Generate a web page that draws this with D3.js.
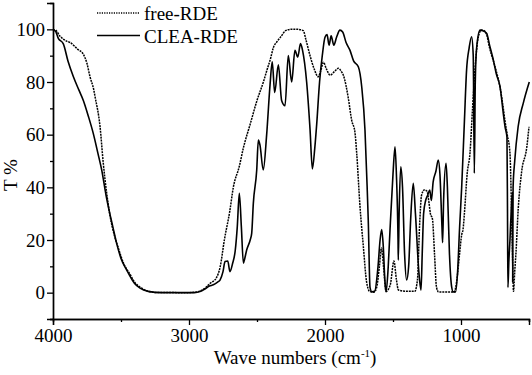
<!DOCTYPE html>
<html>
<head>
<meta charset="utf-8">
<script src="https://cdn.jsdelivr.net/npm/d3@7"></script>
<style>
  body { margin: 0; background: #fff; }
  svg { display: block; font-family: "Liberation Serif", "Times New Roman", serif; }
</style>
</head>
<body>
<svg id="chart" width="532" height="375"></svg>
<script>
// wave number (cm-1) and transmittance (%)
const freeWave = [4000, 3985, 3950, 3900, 3875, 3820, 3777, 3750, 3728, 3700, 3691, 3654, 3630, 3605, 3580, 3550, 3520, 3480, 3434, 3400, 3348, 3300, 3250, 3000,
  2950, 2920, 2880, 2846, 2800, 2770, 2740, 2700, 2674, 2630, 2600, 2550, 2500, 2450, 2430, 2400, 2380, 2350, 2320, 2290, 2250, 2200, 2160, 2140, 2110, 2080,
  2050, 2030, 2012, 1990, 1963, 1930, 1902, 1880, 1865, 1829, 1804, 1780, 1767, 1743, 1718, 1694, 1670, 1640, 1620, 1600, 1585, 1570, 1551, 1520, 1493, 1475,
  1460, 1400, 1340, 1320, 1305, 1290, 1270, 1250, 1235, 1225, 1210, 1195, 1180, 1165, 1050, 1030, 1010, 995, 985, 975, 955, 934, 915, 897, 873, 850, 830,
  811, 790, 762, 740, 713, 689, 676, 660, 640, 630, 620, 614, 605, 596, 579, 554, 517, 500];
const freeT = [99.6, 99.8, 97.5, 95.5, 95, 92.5, 90.5, 87, 82, 77, 74.5, 63, 49, 37.7, 29, 22, 17, 11, 7, 4, 1.7, 0.5, 0.1, 0,
  0.2, 0.6, 1.8, 3.5, 5.5, 10, 20, 31, 40, 48, 55, 64, 73, 80.5, 84, 89, 93, 95.5, 97.5, 99.5, 100, 100, 99.5, 96, 90, 85,
  82, 84.5, 87.5, 85, 82.6, 84, 85.2, 84, 82.6, 74, 65.5, 61, 53, 33, 17.5, 4, 0.4, 0.2, 2, 10, 17, 10, 0.5, 3, 12, 5,
  1, 0.5, 0.5, 5, 25, 37, 39, 38.5, 34, 30, 28, 15, 2, 0.3, 0.3, 5, 15, 22, 24, 30, 45, 53, 70, 85, 97, 99.7, 99.5,
  98, 93, 88, 84, 78, 70, 65, 60, 53, 35, 12, 0.5, 8, 15, 32, 46, 55, 63];

const cleaWave = [4000, 3985, 3960, 3924, 3890, 3850, 3810, 3777, 3740, 3704, 3670, 3642, 3610, 3593, 3560, 3532, 3500, 3458, 3400, 3360, 3300, 3200, 2960,
  2919, 2880, 2850, 2821, 2790, 2772, 2750, 2735, 2715, 2699, 2680, 2660, 2645, 2630, 2615, 2600, 2590, 2576, 2550, 2539, 2527, 2502, 2490, 2478, 2454,
  2429, 2404, 2388, 2370, 2343, 2319, 2294, 2270, 2245, 2221, 2200, 2180, 2165, 2135, 2110, 2093, 2075, 2061, 2040, 2020, 2000, 1985, 1970, 1955, 1935,
  1915, 1890, 1870, 1845, 1816, 1790, 1755, 1730, 1706, 1690, 1682, 1669, 1655, 1635, 1610, 1595, 1583, 1572, 1560, 1551, 1535, 1522, 1500, 1485, 1475,
  1463, 1461, 1455, 1443, 1430, 1415, 1400, 1385, 1370, 1351, 1335, 1310, 1294, 1285, 1275, 1260, 1245, 1230, 1218, 1205, 1185, 1167, 1155, 1140, 1135,
  1128, 1110, 1100, 1085, 1069, 1057, 1040, 1025, 1010, 995, 975, 959, 940, 922, 910, 902, 895, 885, 860, 840, 811, 790, 762, 740, 713, 689, 676, 662,
  658, 655, 648, 640, 630, 622, 620, 617, 605, 580, 542, 498];
const cleaT = [99.6, 99.5, 96.5, 94.5, 88, 82, 77, 73, 67, 60.5, 53, 46.6, 37, 32.6, 25, 18.7, 13, 8.6, 3.5, 1.7, 0.5, 0, 0,
  0.4, 1.5, 2.5, 3, 4, 4.8, 8, 11.8, 12, 8, 11, 16, 25, 37.7, 25, 11.2, 13, 16.2, 20, 22.5, 33.9, 46.6, 58, 56, 46.6,
  60, 79, 87.7, 76, 86.5, 73, 71, 90, 80, 92, 89.5, 94.6, 92, 80, 62, 47, 55, 64, 80, 90, 97, 98, 94, 97.5, 94,
  97, 99.7, 99, 95, 92, 88, 85.8, 78.2, 61.7, 40, 27.6, 2, 0.3, 0.5, 10, 20, 24, 18, 5, 0.3, 10, 23.8, 45, 55.4, 45,
  20, 12.4, 30, 47.8, 40, 15, 4.8, 10, 28, 41.5, 30, 8, 1, 15, 30, 35, 37, 39, 35, 42, 46, 50.4, 45, 25, 19,
  35, 49.1, 40, 15, 2.3, 0.3, 0.3, 8, 25, 40, 65, 84.5, 93, 97.2, 90, 45.3, 80, 93, 99.7, 99.5, 98.4, 94, 88.3, 83, 78.2, 68.1, 63, 59,
  30, 2, 12, 20, 32, 38, 4, 40, 50, 63, 72, 80];

const xTicks = [4000, 3000, 2000, 1000];
const xMinor = [3500, 2500, 1500, 500];
const yTicks = [0, 20, 40, 60, 80, 100];
const yMinor = [-10, 10, 30, 50, 70, 90];

const svg = d3.select("#chart");
const plotLeft = 53, plotRight = 529, plotTop = 3, plotBottom = 319;

const x = d3.scaleLinear().domain([4000, 500]).range([plotLeft, plotRight]);
const y = d3.scaleLinear().domain([-10, 110]).range([plotBottom, plotTop]);

const freeData = freeWave.map((w, i) => ({ w, t: freeT[i] }));
const cleaData = cleaWave.map((w, i) => ({ w, t: cleaT[i] }));

const line = d3.line()
  .x((d) => x(d.w))
  .y((d) => y(d.t))
  .curve(d3.curveMonotoneX);

// axes
svg.append("g").attr("transform", `translate(0,${plotBottom})`)
  .call(d3.axisBottom(x).tickValues(xTicks).tickFormat(d3.format("d")).tickSizeOuter(0).tickSize(6).tickPadding(4));
svg.append("g").attr("transform", `translate(0,${plotBottom})`)
  .call(d3.axisBottom(x).tickValues(xMinor).tickFormat("").tickSizeOuter(0).tickSize(3));

svg.append("g").attr("transform", `translate(${plotLeft},0)`)
  .call(d3.axisLeft(y).tickValues(yTicks).tickSizeOuter(0).tickSize(6).tickPadding(2));
svg.append("g").attr("transform", `translate(${plotLeft},0)`)
  .call(d3.axisLeft(y).tickValues(yMinor).tickFormat("").tickSizeOuter(0).tickSize(3));

svg.selectAll(".domain").attr("stroke", "#000").attr("stroke-width", 1.4);
svg.selectAll(".tick line").attr("stroke", "#000").attr("stroke-width", 1.3);
svg.selectAll(".tick text")
  .attr("fill", "#000")
  .style("font-family", "'Liberation Serif', serif")
  .style("font-size", "19px");

// series
svg.append("path")
  .datum(freeData)
  .attr("d", line)
  .attr("fill", "none")
  .attr("stroke", "#000")
  .attr("stroke-width", 1.5)
  .attr("stroke-dasharray", "2,0.9");

svg.append("path")
  .datum(cleaData)
  .attr("d", line)
  .attr("fill", "none")
  .attr("stroke", "#000")
  .attr("stroke-width", 1.6);

// legend
const legend = svg.append("g");
legend.append("line").attr("x1", 97).attr("x2", 140).attr("y1", 13).attr("y2", 13)
  .attr("stroke", "#000").attr("stroke-width", 1.4).attr("stroke-dasharray", "1.2,1.2");
legend.append("text").attr("x", 144).attr("y", 19.5).text("free-RDE")
  .style("font-size", "19px");
legend.append("line").attr("x1", 97).attr("x2", 140).attr("y1", 35.5).attr("y2", 35.5)
  .attr("stroke", "#000").attr("stroke-width", 1.6);
legend.append("text").attr("x", 144).attr("y", 43).text("CLEA-RDE")
  .style("font-size", "19px");

// axis titles
const xt = svg.append("text")
  .attr("x", 295).attr("y", 364)
  .attr("text-anchor", "middle")
  .style("font-size", "19px");
xt.append("tspan").text("Wave numbers (cm");
xt.append("tspan").attr("dy", -7).style("font-size", "11px").text("-1");
xt.append("tspan").attr("dy", 7).text(")");

svg.append("text")
  .attr("transform", "translate(17,175) rotate(-90)")
  .attr("text-anchor", "middle")
  .style("font-size", "19px")
  .text("T %");
</script>
</body>
</html>
